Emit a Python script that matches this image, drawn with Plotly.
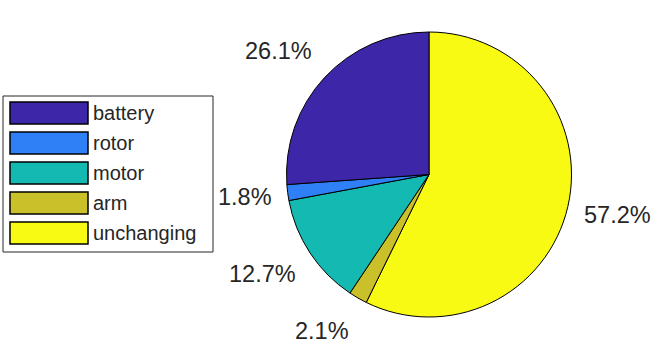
import math
import plotly.graph_objects as go

categories = ["battery", "rotor", "motor", "arm", "unchanging"]
values = [26.1, 1.8, 12.7, 2.1, 57.2]
colors = ["#3e26a8", "#2f80f7", "#14bab2", "#c9c02a", "#f9fa14"]

W, H = 658, 343
cx, cy, R = 429.0, 174.5, 142.5

fig = go.Figure()
# drawn clockwise from 12 o'clock in reverse order == counterclockwise in given order
fig.add_trace(go.Pie(
    labels=categories[::-1],
    values=values[::-1],
    sort=False,
    direction="clockwise",
    rotation=0,
    marker=dict(colors=colors[::-1], line=dict(color="#000000", width=1)),
    textinfo="none",
    hoverinfo="label+percent",
    showlegend=False,
    domain=dict(x=[(cx - R) / W, (cx + R) / W], y=[1 - (cy + R) / H, 1 - (cy - R) / H]),
))

annotations = []
shapes = []
total = sum(values)
cum = 0.0
for v in values:
    mid = (cum + v / 2) / total * 2 * math.pi  # counterclockwise from top
    cum += v
    sx = -math.sin(mid)
    cz = math.cos(mid)
    px = cx + 1.1 * R * sx
    py = cy - 1.1 * R * cz
    annotations.append(dict(
        x=px / W, y=1 - py / H, xref="paper", yref="paper",
        text=f"{v:.1f}%", showarrow=False,
        xanchor="left" if sx > 0 else "right", yanchor="middle",
        yshift=24 * cz,
        font=dict(family="Liberation Sans, Arial, sans-serif", size=23.5, color="#262626"),
    ))

# legend box
shapes.append(dict(type="rect", xref="paper", yref="paper",
                   x0=3 / W, x1=213 / W, y0=1 - 252 / H, y1=1 - 96 / H,
                   line=dict(color="#262626", width=1), fillcolor="#ffffff"))
for i, (cat, col) in enumerate(zip(categories, colors)):
    top = 102 + 30 * i
    shapes.append(dict(type="rect", xref="paper", yref="paper",
                       x0=10 / W, x1=88 / W, y0=1 - (top + 22) / H, y1=1 - top / H,
                       line=dict(color="#000000", width=1.5), fillcolor=col))
    annotations.append(dict(
        x=91 / W, y=1 - (top + 11) / H, xref="paper", yref="paper",
        text=cat, showarrow=False, xanchor="left", yanchor="middle",
        font=dict(family="Liberation Sans, Arial, sans-serif", size=20, color="#262626"),
    ))

fig.update_layout(
    width=W, height=H,
    margin=dict(l=0, r=0, t=0, b=0),
    paper_bgcolor="#ffffff",
    plot_bgcolor="#ffffff",
    annotations=annotations,
    shapes=shapes,
)

fig.write_html("out.html",
               config={"displayModeBar": False},
               post_script="document.body.style.margin='0';document.body.style.overflow='hidden';")
